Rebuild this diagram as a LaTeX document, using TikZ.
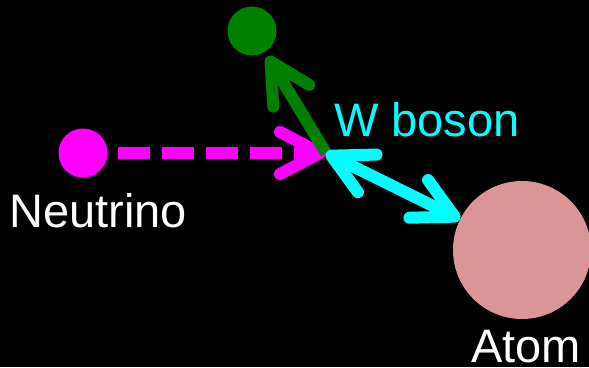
\documentclass[tikz,border=0pt]{standalone}
\usepackage{fontspec}
\setmainfont{Liberation Sans}
\usetikzlibrary{arrows.meta}
\definecolor{nucol}{RGB}{255,0,255}
\definecolor{wcol}{RGB}{0,255,255}
\definecolor{ecol}{RGB}{0,128,0}
\definecolor{atomcol}{RGB}{218,150,150}
\tikzset{
  particle/.style={circle, inner sep=0pt, draw=none},
  lbl/.style={text=white, inner sep=0pt, font=\fontsize{47}{50}\selectfont},
  barb/.tip={Straight Barb[length=40pt, width=42pt, line cap=round, line join=round]},
  flow/.style={line width=12pt},
}
\begin{document}
\begin{tikzpicture}[x=1pt, y=-1pt]
  \fill[black] (0,0) rectangle (589,367);
  \useasboundingbox (0,0) rectangle (589,367);

  % particles
  \node[particle, fill=nucol, minimum size=49pt] (nu) at (83,153) {};
  \node[particle, fill=ecol, minimum size=49pt] (el) at (252,31) {};
  \node[particle, fill=atomcol, minimum size=138pt] (atom) at (522,250) {};
  \coordinate (v) at (326,153);

  % labels
  \node[lbl, anchor=base west] (nulbl) at (9,227) {Neutrino};
  \node[lbl, anchor=base west, text=wcol] (wlbl) at (334,136) {W boson};
  \node[lbl, anchor=base west] (atomlbl) at (471,362) {Atom};

  % connectors
  \draw[flow, nucol, dash pattern=on 32pt off 12pt, -{barb}, shorten <=35pt]
    (nu.center) -- (v);
  \draw[flow, ecol, -{barb}, shorten >=5pt] (v) -- (el);
  \draw[flow, wcol, {barb}-{barb}] (v) -- (atom);
\end{tikzpicture}
\end{document}
